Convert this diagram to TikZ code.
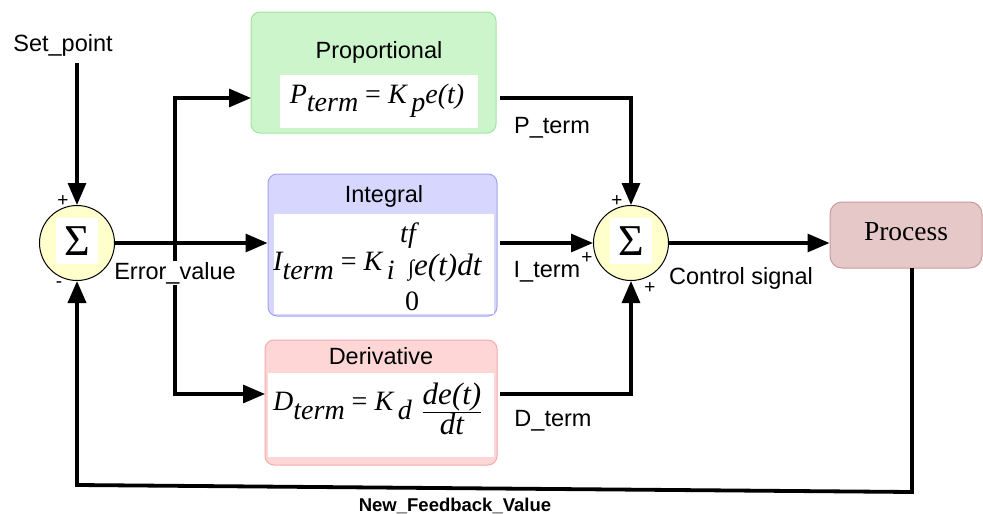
\documentclass[tikz,border=0pt]{standalone}
\usepackage{fontspec}
\setmainfont{Liberation Sans}
\newfontfamily\tms{Liberation Serif}
\usetikzlibrary{arrows.meta}
\definecolor{pfill}{HTML}{CCF5CC}
\definecolor{pline}{HTML}{9FE59F}
\definecolor{ifill}{HTML}{D6D6FF}
\definecolor{iline}{HTML}{A3A3F0}
\definecolor{dfill}{HTML}{FFD6D6}
\definecolor{dline}{HTML}{F2ABAB}
\definecolor{prfill}{HTML}{E6C8C8}
\definecolor{prline}{HTML}{C89A9A}
\definecolor{sumfill}{HTML}{FFFFCC}
\newcommand\sbx[1]{\raisebox{-0.3em}{#1}}
\tikzset{
  lbl/.style={font=\fontsize{23.5}{26}\selectfont, inner sep=1pt},
  sgn/.style={font=\fontsize{19}{20}\selectfont, inner sep=0pt},
  sumnode/.style={circle, draw=black, line width=1pt, fill=sumfill, minimum size=75, inner sep=0pt},
  sigbox/.style={fill=white, minimum width=42, minimum height=46, inner sep=0pt, font=\tms\fontsize{44}{46}\selectfont},
  blockbox/.style={rectangle, rounded corners=9, line width=1pt, inner sep=0pt},
  whitebox/.style={fill=white, inner sep=0pt},
  formula/.style={font=\tms\itshape\fontsize{28}{30}\selectfont, inner sep=0pt},
  arr/.style={line width=3.2pt, -{Triangle[length=22,width=18]}},
}
\begin{document}
\begin{tikzpicture}[x=1pt,y=-1pt]
\useasboundingbox (0,0) rectangle (983,514);
% blocks
\node[blockbox, draw=pline, fill=pfill, minimum width=245, minimum height=121] (P) at (373.5,72.5) {};
\node[whitebox, minimum width=198, minimum height=53] (Pw) at (379,101.5) {};
\node[lbl] (Pt) at (379,52) {Proportional};
\node[formula] (Pf) at (377,101) {P\sbx{term} {\upshape=} K\,\sbx{p}e(t)};

\node[blockbox, draw=iline, fill=ifill, minimum width=229, minimum height=142] (I) at (382.5,245) {};
\node[whitebox, minimum width=220, minimum height=100] (Iw) at (384,264) {};
\node[lbl] (It) at (384,196) {Integral};
\node[formula, anchor=west] (If) at (273,266) {I\sbx{term} {\upshape=} K\,\sbx{i}};
\node[formula, anchor=west, font=\tms\itshape\fontsize{31}{32}\selectfont] (Ii) at (408,268) {{\fontsize{22}{24}\selectfont\char"222B}e(t)dt};
\node[formula] (Itf) at (408,236) {tf};
\node[formula, font=\tms\fontsize{28}{30}\selectfont] (Iz) at (412,301) {0};

\node[blockbox, draw=dline, fill=dfill, minimum width=232, minimum height=125] (D) at (381,402.5) {};
\node[whitebox, minimum width=226, minimum height=84] (Dw) at (381,415) {};
\node[lbl] (Dt) at (381,356) {Derivative};
\node[formula, anchor=west] (Df) at (273,406) {D\sbx{term} {\upshape=} K\,\sbx{d}};
\node[formula, font=\tms\itshape\fontsize{31}{32}\selectfont] (Dfr) at (452,409) {$\frac{\hbox{\tms\itshape de(t)}}{\hbox{\tms\itshape dt}}$};

\node[blockbox, draw=prline, fill=prfill, minimum width=152, minimum height=66, rounded corners=12] (proc) at (906,235) {};
\node[font=\tms\fontsize{27.5}{30}\selectfont, inner sep=0pt] (proct) at (906,232) {Process};

% summing junctions
\node[sumnode] (s1) at (77,243) {};
\node[sigbox] (s1s) at (77,241) {\char"03A3};
\node[sumnode] (s2) at (631,243) {};
\node[sigbox] (s2s) at (631,241) {\char"03A3};

% texts
\node[lbl] (sp) at (63,45) {Set\_point};
\node[sgn] (s1p) at (63,201) {+};
\node[sgn] (s1m) at (59,285) {-};
\node[sgn] (s2pt) at (617,201) {+};
\node[sgn] (s2pl) at (587,258) {+};
\node[sgn] (s2pb) at (650,288) {+};
\node[lbl] (Pl) at (552,128) {P\_term};
\node[lbl] (Il) at (547,272) {I\_term};
\node[lbl] (Dl) at (553,421) {D\_term};
\node[lbl] (cs) at (741,278) {Control signal};
\node[font=\bfseries\fontsize{18.5}{20}\selectfont, inner sep=0pt] (fb) at (455,506) {New\_Feedback\_Value};

% coordinates
\coordinate (spin) at (77,63);
\coordinate (br) at (175,243);
\coordinate (pin) at (251,98);
\coordinate (din) at (265,394);
\coordinate (pout) at (500,98);
\coordinate (dout) at (500,394);
\coordinate (iout) at (500,243);
\coordinate (prout) at (912,268);
\coordinate (fbr) at (912,492);
\coordinate (fbl) at (77,485);

% connectors
\draw[arr] (spin) -- (s1.north);
\draw[arr] (s1.east) -- (s1.east -| I.west);
\draw[arr] (br) |- (pin);
\draw[arr] (br) |- (din);
\draw[arr] (pout) -| (s2.north);
\draw[arr] (iout) -- (s2.west);
\draw[arr] (dout) -| (s2.south);
\draw[arr] (s2.east) -- (s2.east -| proc.west);
\draw[arr, line width=3.8pt] (prout) -- (fbr) -- (fbl) -- (s1.south);

\node[lbl, fill=white] (ev) at (175,273) {Error\_value};
\end{tikzpicture}
\end{document}
